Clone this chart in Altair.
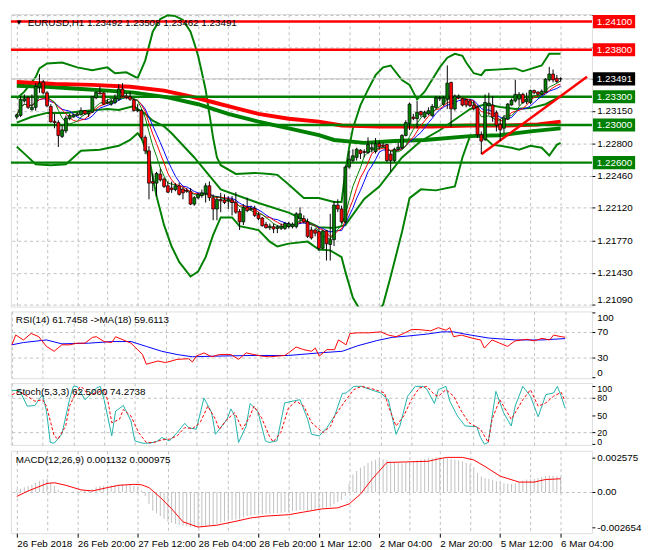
import json
import altair as alt
import pandas as pd

# ---------------- data ----------------
SYMBOL_TITLE = "EURUSD,H1  1.23492 1.23508 1.23462 1.23491"
RSI_TITLE = "RSI(14) 61.7458  ->MA(18) 59.6113"
STOCH_TITLE = "Stoch(5,3,3) 62.5000 74.2738"
MACD_TITLE = "MACD(12,26,9) 0.001132 0.000975"

OPEN = [
1.23085, 1.23102, 1.23256, 1.23291, 1.23164, 1.23188, 1.23404, 1.23459, 1.23342, 1.23198,
1.23040, 1.23027, 1.22879, 1.22937, 1.23068, 1.23085, 1.23102, 1.23109, 1.23153, 1.23119,
1.23136, 1.23291, 1.23342, 1.23342, 1.23232, 1.23222, 1.23239, 1.23274, 1.23383, 1.23308,
1.23301, 1.23267, 1.23153, 1.23153, 1.22869, 1.22725, 1.22399, 1.22382, 1.22478, 1.22423,
1.22354, 1.22330, 1.22313, 1.22354, 1.22320, 1.22306, 1.22296, 1.22159, 1.22227, 1.22251,
1.22272, 1.22354, 1.22227, 1.22107, 1.22210, 1.22203, 1.22193, 1.22203, 1.22176, 1.22080,
1.21970, 1.22125, 1.22101, 1.22114, 1.22046, 1.22011, 1.21943, 1.21908, 1.21919, 1.21901,
1.21901, 1.21901, 1.21919, 1.21919, 1.21919, 1.22005, 1.22005, 1.21970, 1.21884, 1.21884,
1.21867, 1.21689, 1.21874, 1.21730, 1.21781, 1.22149, 1.22107, 1.21970, 1.22553, 1.22622,
1.22656, 1.22732, 1.22718, 1.22708, 1.22742, 1.22718, 1.22800, 1.22787, 1.22793, 1.22690,
1.22622, 1.22742, 1.22759, 1.22889, 1.23016, 1.23085, 1.23068, 1.23143, 1.23085, 1.23119,
1.23102, 1.23188, 1.23280, 1.23222, 1.23274, 1.23452, 1.23171, 1.23291, 1.23280, 1.23267,
1.23257, 1.23213, 1.23189, 1.22897, 1.22846, 1.23206, 1.23213, 1.23131, 1.23007, 1.22966,
1.23062, 1.23213, 1.23257, 1.23275, 1.23326, 1.23247, 1.23240, 1.23367, 1.23350, 1.23326,
1.23350, 1.23480, 1.23542, 1.23497, 1.23492]

HIGH = [
1.23119, 1.23308, 1.23325, 1.23308, 1.23325, 1.23445, 1.23541, 1.23479, 1.23359, 1.23222,
1.23119, 1.23051, 1.22999, 1.23102, 1.23119, 1.23119, 1.23136, 1.23188, 1.23160, 1.23153,
1.23308, 1.23359, 1.23411, 1.23349, 1.23274, 1.23280, 1.23325, 1.23435, 1.23445, 1.23342,
1.23359, 1.23280, 1.23222, 1.23171, 1.22889, 1.22776, 1.22485, 1.22502, 1.22536, 1.22443,
1.22399, 1.22399, 1.22382, 1.22388, 1.22347, 1.22330, 1.22330, 1.22244, 1.22279, 1.22313,
1.22382, 1.22399, 1.22262, 1.22244, 1.22279, 1.22262, 1.22244, 1.22244, 1.22286, 1.22107,
1.22159, 1.22227, 1.22142, 1.22142, 1.22073, 1.22022, 1.21970, 1.21953, 1.21953, 1.21936,
1.21953, 1.21970, 1.21970, 1.21963, 1.22073, 1.22125, 1.22039, 1.22005, 1.21919, 1.21901,
1.21901, 1.21884, 1.21884, 1.22056, 1.22193, 1.22210, 1.22142, 1.22570, 1.22725, 1.22742,
1.22759, 1.22742, 1.22742, 1.22869, 1.22811, 1.22862, 1.22828, 1.22811, 1.22800, 1.22725,
1.22759, 1.22811, 1.22903, 1.23051, 1.23239, 1.23119, 1.23256, 1.23153, 1.23153, 1.23188,
1.23222, 1.23308, 1.23308, 1.23308, 1.23634, 1.23462, 1.23325, 1.23325, 1.23291, 1.23274,
1.23275, 1.23257, 1.23206, 1.22932, 1.23326, 1.23343, 1.23309, 1.23155, 1.23069, 1.23103,
1.23233, 1.23281, 1.23480, 1.23350, 1.23343, 1.23343, 1.23377, 1.23377, 1.23360, 1.23377,
1.23498, 1.23618, 1.23590, 1.23532, 1.23508]

LOW = [
1.23061, 1.23085, 1.23239, 1.23171, 1.23153, 1.23153, 1.23342, 1.23325, 1.23188, 1.23027,
1.22965, 1.22766, 1.22862, 1.22913, 1.23051, 1.23078, 1.23095, 1.23102, 1.23109, 1.23085,
1.23129, 1.23274, 1.23325, 1.23212, 1.23222, 1.23205, 1.23222, 1.23256, 1.23301, 1.23274,
1.23256, 1.23143, 1.23136, 1.22845, 1.22690, 1.22210, 1.22296, 1.22244, 1.22399, 1.22330,
1.22279, 1.22279, 1.22296, 1.22251, 1.22210, 1.22279, 1.22149, 1.22142, 1.22210, 1.22227,
1.22176, 1.22193, 1.21987, 1.21987, 1.22073, 1.22159, 1.22107, 1.22039, 1.22056, 1.21884,
1.21936, 1.22073, 1.22090, 1.22022, 1.21987, 1.21919, 1.21901, 1.21884, 1.21850, 1.21850,
1.21884, 1.21884, 1.21901, 1.21901, 1.21901, 1.21953, 1.21953, 1.21799, 1.21782, 1.21816,
1.21661, 1.21679, 1.21559, 1.21559, 1.21713, 1.22073, 1.21953, 1.21953, 1.22536, 1.22605,
1.22622, 1.22639, 1.22656, 1.22690, 1.22708, 1.22697, 1.22742, 1.22759, 1.22605, 1.22502,
1.22605, 1.22725, 1.22742, 1.22879, 1.22947, 1.23051, 1.22965, 1.23085, 1.23068, 1.23102,
1.23085, 1.23171, 1.23256, 1.23205, 1.23171, 1.22982, 1.23153, 1.23274, 1.23198, 1.23188,
1.23189, 1.23155, 1.22863, 1.22692, 1.22829, 1.23103, 1.23034, 1.22932, 1.22829, 1.22914,
1.23052, 1.23206, 1.23240, 1.23206, 1.23223, 1.23223, 1.23223, 1.23326, 1.23316, 1.23316,
1.23343, 1.23463, 1.23453, 1.23446, 1.23462]

CLOSE = [
1.23109, 1.23274, 1.23280, 1.23188, 1.23188, 1.23411, 1.23445, 1.23342, 1.23205, 1.23033,
1.23027, 1.22889, 1.22948, 1.23075, 1.23102, 1.23109, 1.23119, 1.23153, 1.23119, 1.23143,
1.23301, 1.23349, 1.23332, 1.23222, 1.23246, 1.23256, 1.23280, 1.23383, 1.23308, 1.23291,
1.23274, 1.23153, 1.23164, 1.22869, 1.22725, 1.22382, 1.22382, 1.22485, 1.22416, 1.22347,
1.22286, 1.22313, 1.22354, 1.22262, 1.22279, 1.22296, 1.22159, 1.22227, 1.22262, 1.22279,
1.22354, 1.22227, 1.22107, 1.22210, 1.22193, 1.22176, 1.22210, 1.22176, 1.22073, 1.21970,
1.22125, 1.22090, 1.22114, 1.22039, 1.22005, 1.21929, 1.21908, 1.21925, 1.21895, 1.21919,
1.21925, 1.21953, 1.21953, 1.21946, 1.22056, 1.22056, 1.21970, 1.21816, 1.21799, 1.21850,
1.21689, 1.21874, 1.21737, 1.21781, 1.22149, 1.22107, 1.21970, 1.22553, 1.22639, 1.22673,
1.22742, 1.22697, 1.22708, 1.22793, 1.22759, 1.22800, 1.22766, 1.22773, 1.22622, 1.22622,
1.22742, 1.22766, 1.22889, 1.23026, 1.23222, 1.23068, 1.23136, 1.23109, 1.23136, 1.23153,
1.23198, 1.23291, 1.23291, 1.23291, 1.23445, 1.23171, 1.23308, 1.23308, 1.23212, 1.23212,
1.23206, 1.23172, 1.22897, 1.22829, 1.23240, 1.23233, 1.23086, 1.23000, 1.22949, 1.23076,
1.23223, 1.23264, 1.23326, 1.23326, 1.23240, 1.23275, 1.23367, 1.23343, 1.23326, 1.23360,
1.23487, 1.23542, 1.23480, 1.23463, 1.23491]

BARS = list(range(len(CLOSE)))

# long moving averages (thick lines)
RED_MA_BARS = [0, 10, 20, 30, 39, 46, 52, 58, 64, 72, 80, 86, 96, 110, 120, 130, 138, 144]
RED_MA = [1.23458, 1.23438, 1.23427, 1.23407, 1.23366, 1.23304, 1.23242, 1.23180, 1.23118,
          1.23067, 1.23036, 1.22995, 1.22985, 1.22985, 1.22995, 1.22995, 1.23005, 1.23036]
GRN_MA_BARS = [0, 8, 16, 24, 31, 40, 48, 56, 64, 72, 80, 84, 92, 100, 108, 120, 128, 136, 144]
GRN_MA = [1.23417, 1.23407, 1.23386, 1.23366, 1.23345, 1.23294, 1.23221, 1.23119, 1.23036,
          1.22964, 1.22892, 1.22841, 1.22810, 1.22830, 1.22841, 1.22882, 1.22892, 1.22933, 1.22964]

# Bollinger bands
UB_BARS = [0, 2, 4, 5, 6, 8, 12, 16, 20, 24, 26, 29, 32, 34, 36, 38, 40, 42, 44, 46,
           47, 48, 49, 50, 51, 52, 53, 54, 58, 63, 67, 69, 72, 76, 80, 84, 86, 87, 88, 89,
           90, 91, 93, 95, 97, 99, 102, 104, 106, 108, 112, 114, 116, 118, 119, 121, 123, 124, 128, 132,
           134, 139, 141, 144]
UB = [1.23283, 1.23355, 1.23458, 1.23510, 1.23602, 1.23654, 1.23664, 1.23613, 1.23582, 1.23613,
      1.23551, 1.23561, 1.23499, 1.23685, 1.23993, 1.24127, 1.24168, 1.24158, 1.24117, 1.23993,
      1.23870, 1.23736, 1.23561, 1.23376, 1.23119, 1.22861, 1.22655, 1.22573, 1.22480, 1.22491,
      1.22480, 1.22470, 1.22367, 1.22223, 1.22223, 1.22182, 1.22182, 1.22501, 1.22758, 1.22964,
      1.23088, 1.23211, 1.23376, 1.23530, 1.23613, 1.23633, 1.23479, 1.23427, 1.23273, 1.23355,
      1.23613, 1.23716, 1.23757, 1.23736, 1.23664, 1.23551, 1.23530, 1.23582, 1.23592, 1.23602,
      1.23571, 1.23633, 1.23757, 1.23757]
MB_BARS = [0, 4, 8, 13, 18, 24, 27, 31, 32, 34, 36, 39, 41, 47, 54, 64, 72, 80, 84, 87,
           92, 96, 102, 107, 112, 120, 124, 128, 132, 136, 140, 144]
MB = [1.23026, 1.23088, 1.23129, 1.23129, 1.23149, 1.23170, 1.23160, 1.23201, 1.23170, 1.23119,
      1.23046, 1.22985, 1.22913, 1.22655, 1.22316, 1.22171, 1.22069, 1.21914, 1.21904, 1.21935,
      1.22213, 1.22346, 1.22655, 1.22830, 1.22944, 1.23170, 1.23221, 1.23191, 1.23170, 1.23180,
      1.23221, 1.23304]
LB_BARS = [0, 2, 5, 9, 13, 17, 22, 27, 30, 32, 33, 35, 37, 39, 41, 43, 45, 46, 48, 50,
           52, 54, 57, 59, 64, 67, 69, 72, 77, 80, 83, 86, 87, 89, 91, 93, 95, 97, 99, 102,
           104, 107, 111, 116, 118, 120, 122, 124, 126, 128, 131, 133, 136, 139, 141, 143, 144]
LB = [1.22769, 1.22696, 1.22583, 1.22573, 1.22583, 1.22727, 1.22738, 1.22779, 1.22841, 1.22913,
      1.22861, 1.22655, 1.22244, 1.21935, 1.21708, 1.21544, 1.21441, 1.21389, 1.21441, 1.21595,
      1.21832, 1.22017, 1.22017, 1.21924, 1.21883, 1.21760, 1.21708, 1.21739, 1.21760, 1.21677,
      1.21667, 1.21595, 1.21441, 1.21163, 1.21029, 1.20967, 1.20998, 1.21091, 1.21389, 1.21863,
      1.22223, 1.22316, 1.22305, 1.22346, 1.22655, 1.22882, 1.22892, 1.22861, 1.22789, 1.22779,
      1.22758, 1.22738, 1.22779, 1.22758, 1.22676, 1.22789, 1.22810]

# short moving averages (window lengths in bars)
MA_FAST, MA_MID, MA_SLOW = 6, 8, 10

RES_LEVELS = [1.2410, 1.2380]
SUP_LEVELS = [1.2330, 1.2300, 1.2260]
BID = [1.23491]
TREND_BARS = [123, 151]
TREND_PRICES = [1.22689, 1.23513]
BOX_PRICES = [1.2410, 1.2380, 1.23491, 1.2330, 1.2300, 1.2260]
BOX_KINDS = ["res", "res", "bid", "sup", "sup", "sup"]
PRICE_TICKS = [1.2417, 1.2383, 1.2349, 1.2315, 1.2280, 1.2246, 1.2212, 1.2177, 1.2143, 1.2109]
HIDDEN_TICKS = [1.2383, 1.2349]   # covered by the price boxes

# RSI
RSI_BARS = [0, 1, 3, 5, 7, 9, 11, 13, 15, 17, 19, 21, 22, 24, 26, 27, 29, 31, 34, 35,
            38, 40, 43, 46, 47, 48, 50, 52, 54, 57, 59, 61, 63, 65, 67, 69, 71, 72, 74, 76,
            78, 79, 80, 82, 84, 85, 87, 88, 90, 93, 96, 98, 100, 102, 104, 106, 109, 111, 113, 114,
            115, 117, 120, 122, 123, 125, 127, 129, 131, 134, 136, 138, 140, 141, 143, 144]
RSI = [50, 65, 57.5, 67.5, 62.5, 47.5, 40, 50, 50, 52.5, 52.5, 61.5, 62.5, 55, 53.5, 62.5, 57.5, 52.5, 35, 20,
       25, 22.5, 27.5, 28.5, 23.5, 32.5, 37.5, 31.5, 35, 35, 27.5, 37.5, 35, 32.5, 31.5, 32.5, 33.5, 37.5, 46.5, 42.5,
       40, 45, 32.5, 42.5, 42.5, 57.5, 50, 67.5, 68.5, 68.5, 70, 65, 62.5, 67.5, 73.5, 73.5, 71.5, 76.5, 72.5, 76.5,
       62.5, 65, 60, 57.5, 45, 57.5, 52.5, 47.5, 56, 58.5, 56, 60, 57.5, 65, 62.5, 61.75]
RMA_BARS = [0, 3, 9, 13, 20, 26, 31, 35, 39, 43, 47, 53, 62, 72, 80, 86, 90, 95, 99, 103,
            108, 112, 115, 118, 124, 131, 138, 144]
RMA = [50, 53.5, 57.5, 51.5, 52.5, 55, 55, 47.5, 40, 35, 31.5, 32.5, 33.5, 33.5, 37.5, 40, 48.5, 56.5, 61.5, 63.5,
       66.5, 70, 70, 66.5, 60.5, 57.5, 57.5, 59.6]
RSI_TICKS = [0, 30, 70, 100]

# Stochastic
K_BARS = [0, 2, 4, 6, 7, 8, 9, 10, 11, 13, 15, 16, 17, 19, 20, 22, 23, 24, 26, 27,
          29, 31, 32, 34, 36, 38, 39, 41, 43, 45, 46, 48, 50, 52, 53, 56, 57, 58, 59, 61,
          62, 64, 66, 67, 69, 71, 73, 75, 77, 78, 80, 82, 84, 86, 87, 89, 91, 94, 96, 98,
          100, 101, 103, 105, 107, 108, 110, 111, 113, 114, 116, 118, 121, 122, 123, 124, 126, 128, 130, 131,
          133, 135, 137, 139, 141, 142, 143, 144]
K = [93, 93, 65.7, 66.9, 77, 85.7, 57.1, 2.9, 1.7, 17.1, 77, 100, 100, 77, 82.9, 97, 100, 77, 14.3, 57.1,
     66.9, 40, 5.7, 1.7, 1.7, 5.7, 11.4, 5.7, 20, 36, 28.6, 25.7, 80, 54.3, 17.1, 42.9, 61.1, 48.6, 2.9, 31.4,
     70.3, 57.1, 5.7, 2.9, 5.7, 71.4, 74.3, 77, 42.9, 17.1, 14.3, 28.6, 48.6, 87.4, 88.6, 100, 100, 93, 88.6, 77,
     17.1, 31.4, 82.9, 100, 100, 95.4, 70.3, 94.3, 100, 74.3, 48.6, 31.4, 30.3, 11.4, 0, 2.9, 91.4, 54.3, 31.4, 65.7,
     100, 82.9, 47.4, 85.7, 88.6, 100, 82.9, 62.5]
D_BARS = [0, 2, 4, 6, 8, 9, 11, 12, 14, 15, 17, 18, 20, 22, 24, 25, 26, 28, 29, 31,
          33, 35, 37, 39, 41, 43, 45, 47, 49, 51, 53, 54, 56, 58, 60, 62, 63, 65, 67, 68,
          70, 72, 74, 76, 78, 81, 83, 84, 87, 89, 91, 94, 97, 98, 100, 102, 104, 106, 108, 110,
          111, 113, 115, 117, 119, 122, 124, 125, 127, 129, 130, 133, 135, 137, 139, 141, 143, 144]
D = [85.7, 91.4, 82.9, 74.3, 77, 65.7, 14.3, 8.6, 31.4, 65.7, 94.3, 100, 85.7, 88.6, 94.3, 74.3, 37.1, 42.9, 60, 48.6,
     20, 2.9, 2.9, 7.4, 8.6, 14.3, 28.6, 26.9, 37.1, 65.7, 42.9, 25.7, 42.9, 54.3, 25.7, 48.6, 65.7, 45.7, 14.3, 4,
     20, 62.9, 74.3, 65.7, 37.1, 20, 31.4, 48.6, 77, 94.3, 100, 95.4, 88.6, 65.7, 31.4, 48.6, 77, 97, 100, 85.7,
     82.9, 94.3, 82.9, 57.1, 37.1, 25.7, 2.9, 42.9, 77, 54.3, 42.9, 77, 94.3, 65.7, 71.4, 82.9, 89.7, 74.27]
STOCH_TICKS = [0, 20, 50, 80, 100]

# MACD
MACD_HIST = [
0.000150, 0.000240, 0.000340, 0.000440, 0.000530, 0.000680, 0.000830, 0.000920, 0.000970, 0.000700,
0.000450, 0.000150, 0.000030, -0.000020, 0.000000, 0.000020, 0.000040, 0.000060, 0.000070, 0.000090,
0.000200, 0.000350, 0.000430, 0.000440, 0.000460, 0.000480, 0.000500, 0.000560, 0.000560, 0.000550,
0.000530, 0.000460, 0.000400, 0.000100, -0.000300, -0.000900, -0.001400, -0.001600, -0.001800, -0.002000,
-0.002200, -0.002300, -0.002400, -0.002450, -0.002520, -0.002560, -0.002610, -0.002640, -0.002654, -0.002630,
-0.002580, -0.002500, -0.002450, -0.002400, -0.002300, -0.002200, -0.002150, -0.002100, -0.002050, -0.002050,
-0.001900, -0.001800, -0.001750, -0.001700, -0.001700, -0.001680, -0.001650, -0.001630, -0.001600, -0.001580,
-0.001550, -0.001520, -0.001500, -0.001450, -0.001400, -0.001350, -0.001350, -0.001400, -0.001400, -0.001350,
-0.001300, -0.001200, -0.001150, -0.001100, -0.000900, -0.000750, -0.000600, -0.000300, 0.000600, 0.001300,
0.001550, 0.001800, 0.001950, 0.002150, 0.002300, 0.002400, 0.002450, 0.002430, 0.002350, 0.002260,
0.002200, 0.002150, 0.002140, 0.002200, 0.002260, 0.002300, 0.002350, 0.002430, 0.002450, 0.002500,
0.002530, 0.002575, 0.002570, 0.002530, 0.002550, 0.002450, 0.002400, 0.002350, 0.002260, 0.002150,
0.002020, 0.001850, 0.001410, 0.001150, 0.001040, 0.000980, 0.000900, 0.000800, 0.000700, 0.000650,
0.000600, 0.000580, 0.000650, 0.000750, 0.000850, 0.000920, 0.000950, 0.000980, 0.001050, 0.001100,
0.001180, 0.001210, 0.001200, 0.001160, 0.001132]
SIG_BARS = [0, 3, 8, 10, 13, 17, 20, 24, 27, 31, 33, 35, 38, 41, 44, 48, 53, 58, 62, 66,
            72, 76, 81, 85, 88, 91, 94, 98, 103, 109, 112, 114, 118, 121, 124, 128, 133, 137, 140, 144]
SIG = [-0.00034, 0.00007, 0.00063, 0.00068, 0.00049, 0.00015, 0.00007, 0.00032, 0.00049, 0.00056,
       0.00053, 0.00032, -0.00041, -0.00126, -0.00223, -0.00262, -0.00248, -0.00219, -0.00194, -0.00180,
       -0.00170, -0.00150, -0.00126, -0.00119, -0.00090, -0.00017, 0.00092, 0.00219, 0.00223, 0.00228,
       0.00248, 0.00257, 0.00257, 0.00238, 0.00189, 0.00117, 0.00073, 0.00073, 0.00092, 0.000975]
MACD_TICKS = [0.002575, 0.0, -0.002654]

X_LABELS = ["26 Feb 2018", "26 Feb 20:00", "27 Feb 12:00", "28 Feb 04:00", "28 Feb 20:00",
            "1 Mar 12:00", "2 Mar 04:00", "2 Mar 20:00", "5 Mar 12:00", "6 Mar 04:00"]
GRID_X = [0, 8, 16, 24, 32, 40, 48, 56, 64, 72, 80, 88, 96, 104, 112, 120, 128, 136, 144]

# ---------------- styling / layout ----------------
W = 592
H_MAIN, H_RSI, H_STO, H_MACD = 298, 68, 63, 84
FONT = "Liberation Sans"
GRIDC = "#C0C0C0"
GREEN = "#008000"
RED = "#FF0000"
BLUE = "#0000FF"
TEAL = "#20B2AA"
FLUSH = 6

xs = alt.Scale(domain=[-0.25, 151], nice=False, zero=False)
x_hidden = alt.Axis(values=GRID_X, labels=False, ticks=False, domain=False, grid=True,
                    gridDash=[3, 3], gridColor=GRIDC, title=None, minExtent=0, maxExtent=0,
                    labelPadding=0, offset=0)
label_arr = json.dumps(X_LABELS).replace('"', "'")
x_bottom = alt.Axis(values=GRID_X, domain=False, grid=True, gridDash=[3, 3], gridColor=GRIDC,
                    title=None, labelAlign="left", labelOverlap=False, tickSize=4,
                    tickColor={"condition": {"test": "datum.value % 16 === 0", "value": "black"},
                               "value": "transparent"},
                    labelExpr=f"datum.value % 16 === 0 ? {label_arr}[datum.value / 16] : ''",
                    labelPadding=2, labelFont=FONT, labelFontSize=10, labelColor="black",
                    minExtent=0)

XH = alt.X("bar:Q", scale=xs, axis=x_hidden, title=None)
XB = alt.X("bar:Q", scale=xs, axis=x_bottom, title=None)


def sdf(bars, vals):
    return pd.DataFrame({"bar": bars, "v": vals})


def title_layer(text, x):
    return alt.Chart(pd.DataFrame({"t": [text]})).mark_text(
        align="left", baseline="middle", font=FONT, fontSize=10, color="black"
    ).encode(x=alt.value(x), y=alt.value(9), text="t:N")


# ---- main price panel ----
ys_main = alt.Scale(domain=[1.2107, 1.2418], nice=False, zero=False)
hidden_test = " || ".join(f"abs(datum.value - {v}) < 0.00001" for v in HIDDEN_TICKS)
ax_main = alt.Axis(orient="right", values=PRICE_TICKS, grid=True, gridDash=[3, 3],
                   gridColor=GRIDC, domain=False, tickSize=3, tickColor="black", labelPadding=2,
                   labelFlush=FLUSH, labelOverlap=False, title=None, zindex=0, labelFont=FONT,
                   labelFontSize=10, labelColor="black",
                   labelExpr=f"({hidden_test}) ? '' : format(datum.value, '.5f')")


def YM(field):
    return alt.Y(f"{field}:Q", scale=ys_main, axis=ax_main, title=None)


candles = pd.DataFrame({"bar": BARS, "o": OPEN, "h": HIGH, "l": LOW, "c": CLOSE})

layers = []
layers.append(alt.Chart(sdf(UB_BARS, UB)).mark_line(color=GREEN, strokeWidth=2, clip=True).encode(x=XH, y=YM("v")))
layers.append(alt.Chart(sdf(MB_BARS, MB)).mark_line(color=GREEN, strokeWidth=2, clip=True).encode(x=XH, y=YM("v")))
layers.append(alt.Chart(sdf(LB_BARS, LB)).mark_line(color=GREEN, strokeWidth=2, clip=True).encode(x=XH, y=YM("v")))
layers.append(alt.Chart(sdf(GRN_MA_BARS, GRN_MA)).mark_line(color=GREEN, strokeWidth=4).encode(x=XH, y=YM("v")))
layers.append(alt.Chart(sdf(RED_MA_BARS, RED_MA)).mark_line(color=RED, strokeWidth=4).encode(x=XH, y=YM("v")))
layers.append(alt.Chart(pd.DataFrame({"p": RES_LEVELS})).mark_rule(color=RED, strokeWidth=2.5).encode(y=YM("p")))
layers.append(alt.Chart(pd.DataFrame({"p": SUP_LEVELS})).mark_rule(color=GREEN, strokeWidth=2.5).encode(y=YM("p")))
layers.append(alt.Chart(pd.DataFrame({"p": BID})).mark_rule(color=GRIDC, strokeWidth=1).encode(y=YM("p")))
layers.append(alt.Chart(pd.DataFrame({"bar": TREND_BARS, "v": TREND_PRICES})).mark_line(
    color=RED, strokeWidth=2.5, clip=True).encode(x=XH, y=YM("v")))

for n, col in [(MA_SLOW, BLUE), (MA_MID, RED), (MA_FAST, GREEN)]:
    layers.append(
        alt.Chart(candles)
        .transform_window(m="mean(c)", frame=[-(n - 1), 0], sort=[alt.SortField("bar")])
        .mark_line(color=col, strokeWidth=1)
        .encode(x=XH, y=YM("m"))
    )

layers.append(alt.Chart(candles).mark_rule(color="black", strokeWidth=1).encode(x=XH, y=YM("l"), y2="h:Q"))
layers.append(
    alt.Chart(candles).mark_bar(size=3, stroke="black", strokeWidth=0.7).encode(
        x=XH, y=YM("o"), y2="c:Q",
        color=alt.condition("datum.c >= datum.o", alt.value(GREEN), alt.value(RED)),
    )
)

box_df = pd.DataFrame({"p": BOX_PRICES, "kind": BOX_KINDS})
box_color = alt.Color("kind:N", scale=alt.Scale(domain=["res", "bid", "sup"], range=[RED, "#000000", GREEN]),
                      legend=None)
layers.append(
    alt.Chart(box_df).mark_point(shape="M-1,-0.31H1V0.31H-1Z", size=43 * 43, filled=True, opacity=1,
                                 strokeWidth=0).encode(x=alt.value(W + 22.5), y=YM("p"), color=box_color)
)
layers.append(
    alt.Chart(box_df).mark_text(align="left", baseline="middle", color="white", font=FONT, fontSize=10).encode(
        x=alt.value(W + 5), y=YM("p"), text=alt.Text("p:Q", format=".5f"))
)
layers.append(alt.Chart(pd.DataFrame({"t": ["\u25bc"]})).mark_text(
    align="center", baseline="middle", fontSize=8, color="black").encode(x=alt.value(8), y=alt.value(9), text="t:N"))
layers.append(title_layer(SYMBOL_TITLE, 17))

main = alt.layer(*layers).properties(width=W, height=H_MAIN)

# ---- RSI panel ----
ax_rsi = alt.Axis(orient="right", values=RSI_TICKS, grid=True, gridDash=[3, 3],
                  gridColor={"condition": {"test": "datum.value == 30 || datum.value == 70", "value": GRIDC},
                             "value": "transparent"},
                  domain=False, tickSize=3, tickColor="black", labelPadding=2, labelFlush=FLUSH,
                  labelOverlap=False, title=None, labelFont=FONT, labelFontSize=10, labelColor="black")
Y_RSI = alt.Y("v:Q", scale=alt.Scale(domain=[-1.5, 101.5], nice=False, zero=False), axis=ax_rsi, title=None)
rsi = alt.layer(
    alt.Chart(sdf(RMA_BARS, RMA)).mark_line(color=BLUE, strokeWidth=1).encode(x=XH, y=Y_RSI),
    alt.Chart(sdf(RSI_BARS, RSI)).mark_line(color=RED, strokeWidth=1).encode(x=XH, y=Y_RSI),
    title_layer(RSI_TITLE, 5),
).properties(width=W, height=H_RSI)

# ---- Stochastic panel ----
ax_sto = alt.Axis(orient="right", values=STOCH_TICKS, grid=True, gridDash=[3, 3],
                  gridColor={"condition": {"test": "datum.value == 20 || datum.value == 80", "value": GRIDC},
                             "value": "transparent"},
                  domain=False, tickSize=3, tickColor="black", labelPadding=2, labelFlush=FLUSH,
                  labelFlushOffset=2, labelOverlap=False, title=None, labelFont=FONT, labelFontSize=9,
                  labelColor="black")
Y_STO = alt.Y("v:Q", scale=alt.Scale(domain=[-1.3, 105.7], nice=False, zero=False), axis=ax_sto, title=None)
sto = alt.layer(
    alt.Chart(sdf(K_BARS, K)).mark_line(color=TEAL, strokeWidth=1).encode(x=XH, y=Y_STO),
    alt.Chart(sdf(D_BARS, D)).mark_line(color=RED, strokeWidth=1, strokeDash=[3, 2]).encode(x=XH, y=Y_STO),
    title_layer(STOCH_TITLE, 5),
).properties(width=W, height=H_STO)

# ---- MACD panel ----
ax_macd = alt.Axis(orient="right", values=MACD_TICKS, grid=True, gridDash=[3, 3],
                   gridColor={"condition": {"test": "datum.value == 0", "value": GRIDC}, "value": "transparent"},
                   domain=False, tickSize=3, tickColor="black", labelPadding=2, title=None, labelOverlap=False,
                   labelExpr="datum.value == 0 ? '0.00' : (datum.value < 0 ? '-' + format(-datum.value, '.6f') : format(datum.value, '.6f'))",
                   labelFont=FONT, labelFontSize=10, labelColor="black")
Y_MACD = alt.Y("v:Q", scale=alt.Scale(domain=[-0.00308, 0.00306], nice=False, zero=False), axis=ax_macd, title=None)
macd = alt.layer(
    alt.Chart(sdf(BARS, MACD_HIST)).mark_bar(size=1, color=GRIDC).encode(x=XB, y=Y_MACD),
    alt.Chart(sdf(SIG_BARS, SIG)).mark_line(color=RED, strokeWidth=1).encode(x=XB, y=Y_MACD),
    title_layer(MACD_TITLE, 5),
).properties(width=W, height=H_MACD)

chart = (
    alt.vconcat(main, rsi, sto, macd, spacing=3, padding=0)
    .configure_view(stroke="black", strokeWidth=1)
    .configure(background="white")
)

chart.save("out.html", embed_options={"renderer": "svg", "actions": False})
